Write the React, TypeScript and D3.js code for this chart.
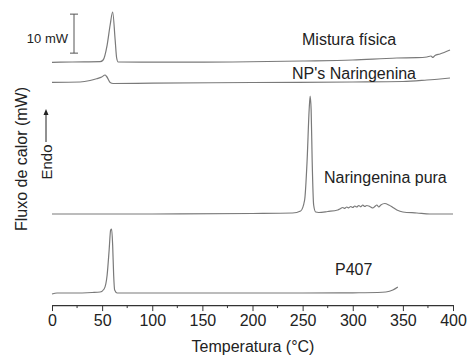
import React, { useEffect, useRef } from "react";
import * as d3 from "d3";

// Temperature (°C) and heat flow (mW, offset per curve)
const p407T = [0, 5, 20, 40, 48, 52, 55, 57, 58.5, 59.5, 60.5, 61.5, 62.5, 65, 150, 250, 300, 325, 333, 340, 345];
const p407V = [1.54, 1.79, 1.79, 1.92, 2.05, 2.82, 6.41, 12.82, 17.95, 18.21, 14.1, 6.41, 2.56, 1.79, 1.79, 1.79, 1.85, 1.92, 2.05, 2.56, 3.33];

const narT = [0, 100, 200, 240, 248, 252, 254.5, 256.5, 257.5, 258.5, 259.5, 261, 263, 266, 275, 285, 288, 290, 292, 294, 296, 298, 300, 302, 304, 306, 308, 310, 312, 314, 316, 318, 320, 322, 324, 326, 328, 332, 336, 340, 344, 350, 364, 377, 400];
const narV = [22.05, 22.05, 22.18, 22.31, 22.82, 25.64, 35.9, 48.72, 52.31, 48.72, 35.9, 24.36, 22.56, 22.44, 22.69, 23.08, 23.46, 23.72, 23.51, 23.85, 23.64, 23.97, 23.72, 24.1, 23.85, 24.23, 23.9, 24.36, 23.97, 24.23, 24.1, 23.85, 23.59, 23.97, 24.36, 23.85, 24.36, 24.74, 24.36, 23.72, 23.08, 22.56, 22.31, 22.05, 22.05];

const misT = [0, 20, 48, 51, 55, 58, 60.5, 63, 64.5, 66, 100, 180, 250, 300, 344, 364, 374, 378, 380, 382, 387, 397];
const misV = [60.95, 61.03, 61.1, 61.54, 65.38, 70.51, 73.85, 66.67, 62.05, 61.03, 60.97, 61.03, 61.28, 61.54, 62.05, 62.13, 62.31, 62.56, 62.18, 62.69, 63.08, 64.1];

const npT = [0, 28, 38, 44.5, 49.6, 52.9, 54.5, 58, 61, 100, 200, 300, 350, 374, 387, 397];
const npV = [55.82, 55.9, 56.28, 56.74, 57.18, 57.69, 57.31, 55.77, 55.51, 55.59, 55.77, 55.9, 56.03, 56.41, 56.67, 56.92];

const xTicks = [0, 50, 100, 150, 200, 250, 300, 350, 400];
const xMinor = [25, 75, 125, 175, 225, 275, 325, 375];

const series = [
  { name: "Mistura física", t: misT, v: misV },
  { name: "NP's Naringenina", t: npT, v: npV },
  { name: "Naringenina pura", t: narT, v: narV },
  { name: "P407", t: p407T, v: p407V },
];

const W = 467;
const H = 358;
const FONT = "'Liberation Sans', Arial, sans-serif";

export default function App() {
  const axisRef = useRef<SVGGElement>(null);
  const x = d3.scaleLinear().domain([0, 400]).range([52, 453]);
  const y = d3.scaleLinear().domain([0, 76]).range([300, 300 - 76 * 3.9]);

  useEffect(() => {
    if (!axisRef.current) return;
    const g = d3.select(axisRef.current);
    g.selectAll("*").remove();
    g.call(d3.axisBottom(x).tickValues(xTicks).tickSize(6).tickSizeOuter(0).tickPadding(4));
    g.selectAll("text").attr("font-size", 16).attr("font-family", FONT).attr("fill", "#222");
    g.selectAll("line").attr("stroke", "#333");
    g.select(".domain").attr("stroke", "#333").attr("stroke-width", 1.2);
    const minor = g.append("g");
    minor
      .selectAll("line")
      .data(xMinor)
      .join("line")
      .attr("x1", (d) => x(d))
      .attr("x2", (d) => x(d))
      .attr("y1", 0)
      .attr("y2", 3)
      .attr("stroke", "#333");
  }, []);

  const line = (t: number[], v: number[]) =>
    d3
      .line<number>()
      .x((_, i) => x(t[i]))
      .y((d) => y(d))
      .curve(d3.curveMonotoneX)(v) || "";

  const labelPos: Record<string, [number, number]> = {
    "Mistura física": [302, 45],
    "NP's Naringenina": [292, 79],
    "Naringenina pura": [324, 183],
    P407: [335, 275],
  };

  const barTop = y(73.85 - 0);
  return (
    <svg width={W} height={H} style={{ position: "absolute", left: 0, top: 0 }} fontFamily={FONT}>
      <rect width={W} height={H} fill="#fff" />
      {series.map((s) => (
        <path key={s.name} d={line(s.t, s.v)} fill="none" stroke="#7a7a7a" strokeWidth={1.2} />
      ))}
      {series.map((s) => (
        <text key={s.name + "l"} x={labelPos[s.name][0]} y={labelPos[s.name][1]} fontSize={16} fill="#222">
          {s.name}
        </text>
      ))}
      {/* 10 mW scale bar */}
      <g stroke="#555" strokeWidth={1}>
        <line x1={74} x2={74} y1={y(73.3)} y2={y(63.3)} />
        <line x1={70} x2={78} y1={y(73.3)} y2={y(73.3)} />
        <line x1={70} x2={78} y1={y(63.3)} y2={y(63.3)} />
      </g>
      <text x={68} y={43} fontSize={13} textAnchor="end" fill="#222">10 mW</text>
      <g ref={axisRef} transform={`translate(0,${y(-1.3)})`} />
      <text x={253} y={352} fontSize={16} textAnchor="middle" fill="#222">Temperatura (°C)</text>
      <text transform="translate(21,159) rotate(-90)" fontSize={16} textAnchor="middle" dominantBaseline="central" fill="#222">
        Fluxo de calor (mW)
      </text>
      <text transform="translate(46,162) rotate(-90)" fontSize={15} textAnchor="middle" dominantBaseline="central" fill="#222">
        Endo
      </text>
      <line x1={46} x2={46} y1={142} y2={114} stroke="#222" strokeWidth={1} />
      <path d="M46,109 L43.5,115 L48.5,115 Z" fill="#222" />
      {barTop < 0 ? null : null}
    </svg>
  );
}
